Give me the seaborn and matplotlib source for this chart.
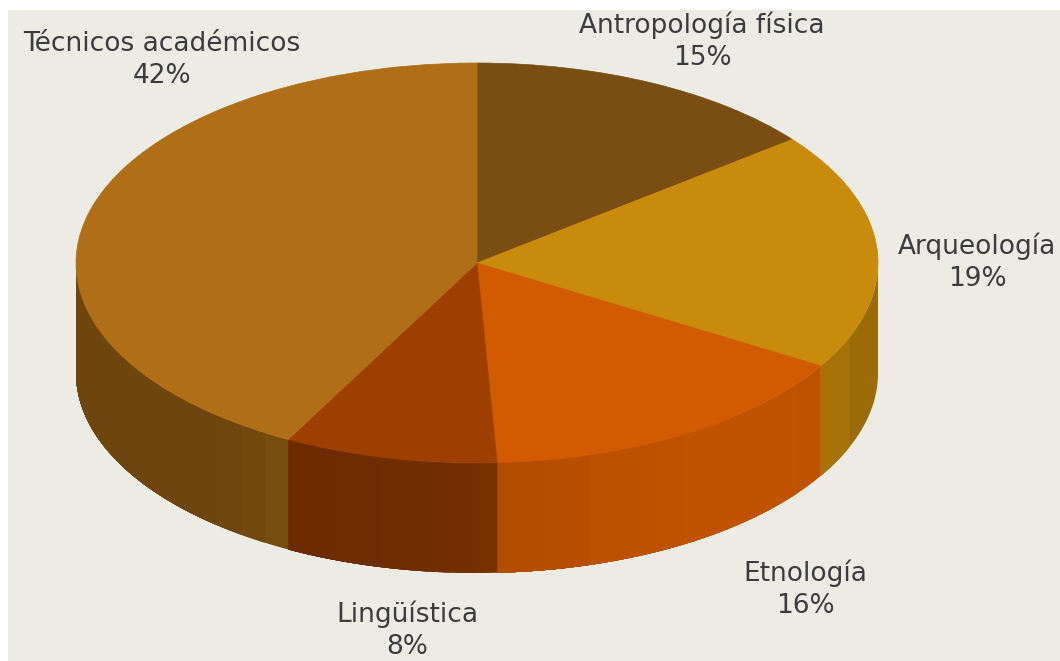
import numpy as np
import matplotlib
matplotlib.use("Agg")
import matplotlib.pyplot as plt
import seaborn as sns

categorias = ['Antropología física', 'Arqueología', 'Etnología', 'Lingüística', 'Técnicos académicos']
valores = [14.4, 19.2, 15.6, 8.6, 42.2]
etiquetas_pct = ['15%', '19%', '16%', '8%', '42%']
colores = ['#7A4D12', '#C98B0B', '#D25A00', '#9C3F00', '#B06E16']

# centro del texto y sombra de la pared segun x en pixeles
pos_texto = [(702, 41), (977, 262), (805, 589), (407, 630), (162, 60)]
sombra_x = [[0, 1], [820, 850, 880], [497, 590, 660, 790, 820], [288, 430, 497], [77, 225, 265, 288]]
sombra_f = [[0.7, 0.7], [0.84, 0.82, 0.71], [0.84, 0.88, 0.91, 0.92, 0.90], [0.69, 0.72, 0.77], [0.63, 0.63, 0.66, 0.70]]

W, H = 1060, 661
CX, CY, RX, RY = 477, 263, 401, 200
PROF = 110 / RY
FONDO = '#ECECE4'

sns.set_theme(style='white')
plt.rcParams['font.family'] = ['DejaVu Sans']


def px(x, y):
    return (x - CX) / RX, (CY - y) / RY


fig = plt.figure(figsize=(W / 100, H / 100), dpi=100, facecolor='white')
ax = fig.add_axes([8 / W, 0, (W - 8) / W, (H - 10) / H])

wedges, _ = ax.pie(valores, colors=colores, startangle=90, counterclock=False, radius=1,
                   normalize=True)
for w in wedges:
    w.set_zorder(3)
    w.set_edgecolor(w.get_facecolor())
    w.set_linewidth(0.5)

# pared lateral, por bandas verticales (cada banda llega hasta el final de la porcion, asi no quedan juntas)
limites = 90 - np.cumsum([0] + valores) * 3.6
for i in range(len(valores)):
    t0, t1 = min(limites[i], 0), max(limites[i + 1], -180)
    if t0 <= t1:
        continue
    x0, x1 = np.cos(np.radians(t0)) * RX + CX, np.cos(np.radians(t1)) * RX + CX
    n = max(int((x0 - x1) / 22), 1)
    xs = np.linspace(x0, x1, n + 1)
    bordes = -np.degrees(np.arccos(np.clip((xs - CX) / RX, -1, 1)))
    base = np.array(sns.color_palette([colores[i]])[0])
    for j in range(n):
        ang = np.radians(np.linspace(bordes[j], t1, 60))
        f = np.interp((xs[j] + xs[j + 1]) / 2, sombra_x[i], sombra_f[i])
        x = np.cos(ang)
        y = np.sin(ang)
        ax.fill(np.r_[x, x[::-1]], np.r_[y, y[::-1] - PROF], color=base * f,
                linewidth=0, zorder=2)

for i, nombre in enumerate(categorias):
    tx, ty = px(*pos_texto[i])
    ax.text(tx, ty, nombre + '\n' + etiquetas_pct[i], ha='center', va='center',
            fontsize=19, color='#3C3C40', linespacing=1.3, zorder=5)

ax.set_aspect('auto')
ax.set_xlim(px(8, 0)[0], px(W, 0)[0])
ax.set_ylim(px(0, H)[1], px(0, 10)[1])
ax.set_frame_on(True)
ax.set_facecolor(FONDO)
sns.despine(ax=ax, left=True, bottom=True)
ax.set_xticks([])
ax.set_yticks([])

fig.savefig('out.png', dpi=100, facecolor='white')
plt.close(fig)
